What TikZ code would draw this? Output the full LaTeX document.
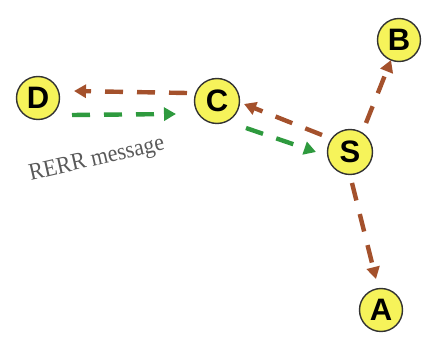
\documentclass[tikz,border=0pt]{standalone}
\usepackage{fontspec}
\setmainfont{Liberation Serif}
\newfontfamily\lettfont{Liberation Sans}
\usetikzlibrary{arrows.meta}
\definecolor{nodey}{HTML}{F6F35A}
\definecolor{brn}{HTML}{A4512C}
\definecolor{grn}{HTML}{2E9A3E}
\tikzset{
  nd/.style={circle, draw=black!80, line width=1.4pt, fill=nodey, minimum size=45pt, inner sep=0pt, font=\lettfont\bfseries\fontsize{31}{31}\selectfont},
  ndsmall/.style={nd, minimum size=43pt},
  brarrow/.style={draw=brn, line width=4.4pt, dash pattern=on 18pt off 14pt, -{Triangle[length=12pt,width=13pt]}},
  grarrow/.style={draw=grn, line width=4.4pt, dash pattern=on 18pt off 14pt, -{Triangle[length=12pt,width=13pt]}},
}
\begin{document}
\begin{tikzpicture}[x=1pt,y=-1pt]
\useasboundingbox (0,0) rectangle (424,339);
\node[ndsmall] (D) at (38,98) {D};
\node[nd] (C) at (217,101) {C};
\node[nd] (S) at (350,152) {S};
\node[ndsmall] (B) at (399,40) {B};
\node[ndsmall] (A) at (381,310) {A};
\coordinate (c1) at (187,93);
\coordinate (d1) at (74,91);
\draw[brarrow] (c1) -- (d1);
\coordinate (d2) at (72,115);
\coordinate (c2) at (176,114);
\draw[grarrow] (d2) -- (c2);
\coordinate (s1) at (322,135);
\coordinate (c3) at (244,104);
\draw[brarrow] (s1) -- (c3);
\coordinate (c4) at (246,128);
\coordinate (s2) at (316,152);
\draw[grarrow] (c4) -- (s2);
\coordinate (s3) at (366,123);
\coordinate (b1) at (391,60);
\draw[brarrow] (s3) -- (b1);
\coordinate (s4) at (352,183);
\coordinate (a1) at (376,279);
\draw[brarrow] (s4) -- (a1);
\node[rotate=13, text=black!65, font=\fontsize{24}{24}\selectfont, xscale=0.92] (lbl) at (97,160) {RERR message};
\end{tikzpicture}
\end{document}
